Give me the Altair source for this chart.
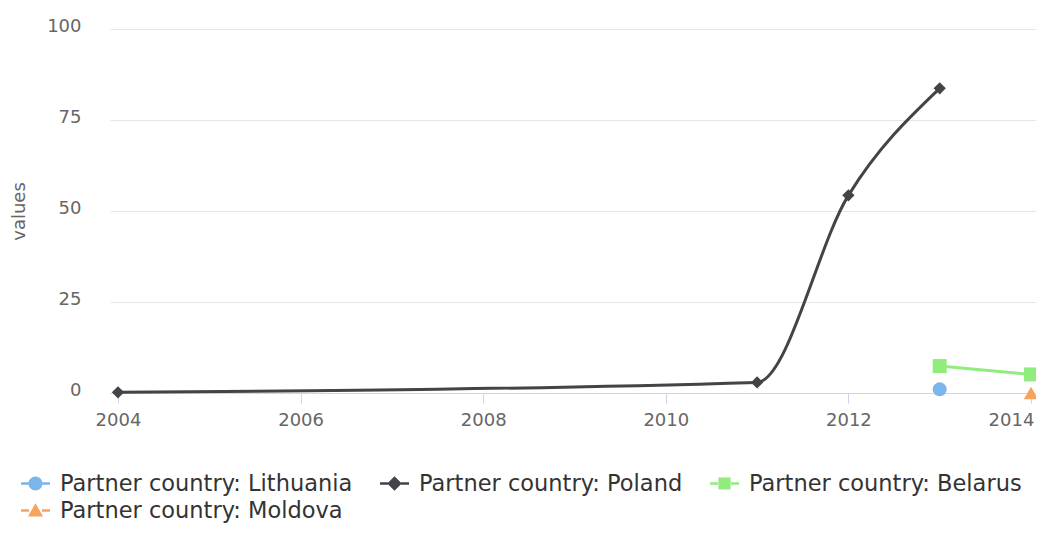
import altair as alt
import pandas as pd

series_order = ["Partner country: Lithuania", "Partner country: Poland",
                "Partner country: Belarus", "Partner country: Moldova"]
series_colors = ["#7cb5ec", "#434348", "#90ed7d", "#f7a35c"]

lithuania_years = [2013]
lithuania_values = [1.0]
poland_years = [2004, 2011, 2012, 2013]
poland_values = [0.2, 2.9, 54.3, 83.7]
belarus_years = [2013, 2014]
belarus_values = [7.4, 5.1]
moldova_years = [2014]
moldova_values = [0.0]

x_ticks = [2004, 2006, 2008, 2010, 2012, 2014]
y_ticks = [0, 25, 50, 75, 100]

rows = []
for name, ys, vs in zip(series_order,
                        [lithuania_years, poland_years, belarus_years, moldova_years],
                        [lithuania_values, poland_values, belarus_values, moldova_values]):
    for y, v in zip(ys, vs):
        rows.append({"series": name, "year": y, "value": v})
df = pd.DataFrame(rows)

FONT = "DejaVu Sans"

# legend symbols: line segments + marker (paths in [-1, 1] box)
seg = "M-1,-0.09H-0.45V0.09H-1Z M0.45,-0.09H1V0.09H0.45Z "
legend_paths = [
    seg + "M0.48,0A0.48,0.48 0 1,1 -0.48,0A0.48,0.48 0 1,1 0.48,0Z",
    seg + "M0,-0.5L0.5,0L0,0.5L-0.5,0Z",
    seg + "M-0.42,-0.42H0.42V0.42H-0.42Z",
    seg + "M0,-0.5L0.52,0.42H-0.52Z",
]

x_scale = alt.Scale(domain=[2003.9124, 2014.0548], nice=False, zero=False)
y_scale = alt.Scale(domain=[0, 100], nice=False)

x_axis = alt.Axis(values=x_ticks, format="d", title=None, grid=False,
                  domainColor="#ccd6eb", tickColor="#ccd6eb", tickSize=10,
                  labelColor="#666666", labelFontSize=18, labelFont=FONT,
                  labelPadding=8, labelFlush=False,
                  labelOffset={"condition": {"test": "datum.value == 2014", "value": -20},
                               "value": 0})
y_axis = alt.Axis(values=y_ticks, title="values", grid=True, gridColor="#e6e6e6",
                  domain=False, ticks=False, labelPadding=29, labelOffset=-3,
                  labelColor="#666666", labelFontSize=18, labelFont=FONT,
                  titleColor="#666666", titleFontSize=18, titleFont=FONT,
                  titleFontWeight="normal", titleX=-91, titleY=182,
                  titleAngle=270, titleBaseline="middle", titleAlign="center")

base = alt.Chart(df)

legend_layer = base.mark_point(filled=True, size=0, opacity=1).encode(
    x=alt.X("year:Q", scale=x_scale, axis=x_axis),
    y=alt.Y("value:Q", scale=y_scale, axis=y_axis),
    color=alt.Color("series:N", scale=alt.Scale(domain=series_order, range=series_colors),
                    sort=series_order, title=None,
                    legend=alt.Legend(orient="none", direction="horizontal",
                                      legendX=-89, legendY=440,
                                      columns=3, columnPadding=27, rowPadding=1,
                                      symbolSize=841, labelFontSize=22.5, labelFont=FONT,
                                      labelColor="#333333", labelOffset=10,
                                      padding=0, symbolStrokeWidth=0, labelLimit=0)),
    shape=alt.Shape("series:N", scale=alt.Scale(domain=series_order, range=legend_paths),
                    sort=series_order, title=None),
)

shapes = ["circle", "diamond", "square", "triangle-up"]
sizes = [196, 150, 196, 210]
layers = [legend_layer]
for name, col in zip(series_order, series_colors):
    layers.append(
        base.transform_filter(alt.datum.series == name)
        .mark_line(interpolate="monotone", strokeWidth=3, color=col)
        .encode(x="year:Q", y="value:Q")
    )
for name, col, shp, sz in zip(series_order, series_colors, shapes, sizes):
    layers.append(
        base.transform_filter(alt.datum.series == name)
        .mark_point(shape=shp, filled=True, size=sz, opacity=1, color=col)
        .encode(x="year:Q", y="value:Q")
    )

chart = alt.layer(*layers).properties(
    width=926, height=364,
    padding={"left": 102, "top": 21, "right": 0, "bottom": 135},
    autosize=alt.AutoSizeParams(type="none"),
    background="white",
).configure_view(stroke=None)

chart.save("out.html", embed_options={"renderer": "svg", "actions": False})
